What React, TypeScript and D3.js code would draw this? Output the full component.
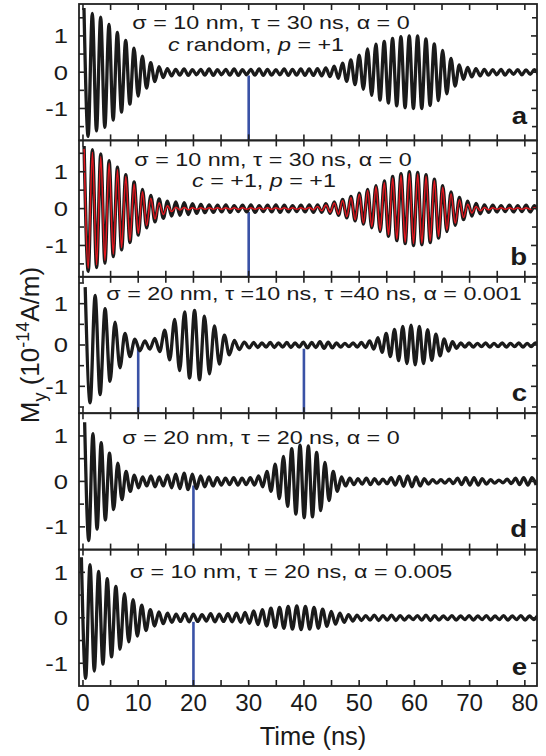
import React, { useEffect, useRef } from "react";
import * as d3 from "d3";

// ---- data ----
const timeTicks = [0, 10, 20, 30, 40, 50, 60, 70, 80];
const panelLetters = ["a", "b", "c", "d", "e"];
const yLimits = [1.88, 1.85, 1.65, 1.5, 1.5];

// blue markers (ns)
const pulseA = [30];
const pulseB = [30];
const pulseC = [10, 40];
const pulseD = [20];
const pulseE = [20];

// amplitude of each oscillation cycle (max, then min of same size)
const periodA = 1.51, startA = 0.18;
const ampA = [1.77, 1.62, 1.52, 1.32, 1.1, 0.88, 0.66, 0.44, 0.26, 0.15,
  0.1, 0.08, 0.09, 0.07, 0.08, 0.09, 0.07, 0.08, 0.09, 0.07,
  0.08, 0.09, 0.08, 0.07, 0.09, 0.08, 0.09, 0.09, 0.1, 0.12,
  0.17, 0.25, 0.34, 0.47, 0.64, 0.77, 0.85, 0.93, 0.98, 1.0,
  1.0, 0.92, 0.78, 0.6, 0.38, 0.2, 0.13, 0.1, 0.08, 0.07,
  0.08, 0.06, 0.07, 0.06, 0.07];

const periodB = 1.51, startB = 0.2;
const ampB = [1.7, 1.6, 1.48, 1.3, 1.12, 0.92, 0.72, 0.52, 0.36, 0.26,
  0.2, 0.18, 0.16, 0.13, 0.11, 0.1, 0.09, 0.1, 0.08, 0.09,
  0.1, 0.08, 0.09, 0.1, 0.09, 0.08, 0.09, 0.1, 0.1, 0.13,
  0.18, 0.25, 0.33, 0.42, 0.52, 0.62, 0.75, 0.87, 0.95, 1.0,
  0.98, 0.92, 0.8, 0.62, 0.45, 0.3, 0.2, 0.14, 0.1, 0.09,
  0.08, 0.09, 0.08, 0.09, 0.08];
const ampBRed = [1.62, 1.53, 1.41, 1.24, 1.06, 0.87, 0.67, 0.46, 0.28, 0.16,
  0.08, 0.04, 0.03, 0.02, 0.02, 0.02, 0.02, 0.02, 0.02, 0.02,
  0.02, 0.02, 0.02, 0.02, 0.02, 0.02, 0.02, 0.03, 0.06, 0.1,
  0.15, 0.22, 0.3, 0.39, 0.49, 0.59, 0.71, 0.83, 0.91, 0.95,
  0.94, 0.88, 0.76, 0.58, 0.4, 0.24, 0.12, 0.06, 0.03, 0.02,
  0.02, 0.02, 0.02, 0.02, 0.02];

const periodC1 = 1.8, startC1 = 0.4;
const ampC1 = [1.4, 1.2, 0.88, 0.55, 0.28, 0.14, 0.1, 0.16, 0.36, 0.62,
  0.8, 0.84, 0.7, 0.46, 0.24, 0.11, 0.07];
const periodC2 = 1.5, startC2 = 30.9;
const ampC2 = [0.06, 0.05, 0.06, 0.05, 0.06, 0.05, 0.07, 0.06, 0.08, 0.07,
  0.05, 0.04, 0.05, 0.06, 0.1, 0.18, 0.28, 0.38, 0.45, 0.48,
  0.45, 0.37, 0.26, 0.15, 0.08, 0.05, 0.05, 0.04, 0.05, 0.04,
  0.05, 0.04, 0.05, 0.04, 0.05];

const periodD = 1.5, startD = 0.3;
const ampD = [1.3, 1.05, 0.85, 0.62, 0.4, 0.22, 0.14, 0.1, 0.12, 0.1,
  0.14, 0.16, 0.18, 0.16, 0.12, 0.1, 0.08, 0.07, 0.08, 0.07,
  0.08, 0.12, 0.22, 0.38, 0.55, 0.72, 0.8, 0.78, 0.64, 0.42,
  0.22, 0.1, 0.07, 0.06, 0.07, 0.06, 0.05, 0.08, 0.11, 0.12,
  0.1, 0.06, 0.04, 0.04, 0.05, 0.07, 0.08, 0.08, 0.06, 0.04,
  0.03, 0.05, 0.07, 0.08, 0.08];

const periodE = 1.56, startE = -0.29;
const ampE = [1.33, 1.17, 1.02, 0.86, 0.69, 0.53, 0.4, 0.28, 0.18, 0.13,
  0.1, 0.08, 0.09, 0.08, 0.07, 0.09, 0.08, 0.09, 0.1, 0.12,
  0.15, 0.18, 0.21, 0.23, 0.25, 0.26, 0.25, 0.23, 0.19, 0.14,
  0.1, 0.07, 0.06, 0.05, 0.06, 0.05, 0.06, 0.05, 0.04, 0.05,
  0.06, 0.05, 0.04, 0.05, 0.04, 0.05, 0.04, 0.05, 0.04, 0.05,
  0.04, 0.05, 0.04, 0.04];

// panel captions: [text, italic?]
const captionA1 = [["σ = 10 nm, τ = 30 ns, α = 0", false]];
const captionA2 = [["c", true], [" random, ", false], ["p", true], [" = +1", false]];
const captionB1 = [["σ = 10 nm, τ = 30 ns, α = 0", false]];
const captionB2 = [["c", true], [" = +1, ", false], ["p", true], [" = +1", false]];
const captionC = [["σ = 20 nm, τ =10 ns, τ =40 ns, α = 0.001", false]];
const captionD = [["σ = 20 nm, τ = 20 ns, α = 0", false]];
const captionE = [["σ = 10 nm, τ = 20 ns, α = 0.005", false]];

const FONT = "'Liberation Sans', Arial, Helvetica, sans-serif";

function wavePoints(segs: { start: number; period: number; amps: number[] }[]) {
  const pts: [number, number][] = [];
  segs.forEach((s) => {
    s.amps.forEach((a, k) => {
      const t = s.start + k * s.period;
      pts.push([t, a]);
      pts.push([t + s.period / 2, -a]);
    });
  });
  return pts;
}

const panels = [
  {
    traces: [{ pts: wavePoints([{ start: startA, period: periodA, amps: ampA }]), color: "#1b1b1b", w: 3.3 }],
    pulses: pulseA,
    captions: [{ parts: captionA1, cx: 271, dy: 25 }, { parts: captionA2, cx: 256, dy: 47 }],
    letterDy: 16,
  },
  {
    traces: [
      { pts: wavePoints([{ start: startB, period: periodB, amps: ampB }]), color: "#1b1b1b", w: 3.4 },
      { pts: wavePoints([{ start: startB, period: periodB, amps: ampBRed }]), color: "#e3161e", w: 1.5 },
    ],
    pulses: pulseB,
    captions: [{ parts: captionB1, cx: 273, dy: 26 }, { parts: captionB2, cx: 264, dy: 46.5 }],
    letterDy: 12,
  },
  {
    traces: [{
      pts: wavePoints([
        { start: startC1, period: periodC1, amps: ampC1 },
        { start: startC2, period: periodC2, amps: ampC2 },
      ]), color: "#1b1b1b", w: 3.3,
    }],
    pulses: pulseC,
    captions: [{ parts: captionC, cx: 314, dy: 23 }],
    letterDy: 12,
  },
  {
    traces: [{ pts: wavePoints([{ start: startD, period: periodD, amps: ampD }]), color: "#1b1b1b", w: 3.3 }],
    pulses: pulseD,
    captions: [{ parts: captionD, cx: 261, dy: 31 }],
    letterDy: 13,
  },
  {
    traces: [{ pts: wavePoints([{ start: startE, period: periodE, amps: ampE }]), color: "#1b1b1b", w: 3.3 }],
    pulses: pulseE,
    captions: [{ parts: captionE, cx: 291, dy: 28.5 }],
    letterDy: 11,
  },
];

export default function App() {
  const ref = useRef<SVGSVGElement>(null);

  useEffect(() => {
    const W = 546, H = 756;
    const left = 79, right = 537, top = 4, bottom = 686;
    const ph = (bottom - top) / panels.length;

    const svg = d3.select(ref.current);
    svg.selectAll("*").remove();
    svg.attr("width", W).attr("height", H);

    const x = d3.scaleLinear().domain([-0.72, 82.2]).range([left, right]);
    const minorX = d3.range(0, 82, 5);

    panels.forEach((p, i) => {
      const y0 = top + i * ph;
      const L = yLimits[i];
      const y = d3.scaleLinear().domain([-L, L]).range([y0 + ph, y0]);
      const g = svg.append("g");

      const clipId = "clip" + i;
      svg.append("clipPath").attr("id", clipId)
        .append("rect").attr("x", left).attr("y", y0).attr("width", right - left).attr("height", ph);

      // blue markers
      g.selectAll(".pulse").data(p.pulses).join("line")
        .attr("x1", (d) => x(d)).attr("x2", (d) => x(d))
        .attr("y1", y(-0.09)).attr("y2", y0 + ph)
        .attr("stroke", "#3a52a6").attr("stroke-width", 2.6);

      // traces
      const line = d3.line<[number, number]>()
        .x((d) => x(d[0])).y((d) => y(d[1]))
        .curve(d3.curveMonotoneX);
      p.traces.forEach((tr) => {
        g.append("path")
          .attr("d", line(tr.pts))
          .attr("fill", "none")
          .attr("stroke", tr.color)
          .attr("stroke-width", tr.w)
          .attr("stroke-linejoin", "round")
          .attr("clip-path", `url(#${clipId})`);
      });

      // frame
      g.append("rect")
        .attr("x", left).attr("y", y0).attr("width", right - left).attr("height", ph)
        .attr("fill", "none").attr("stroke", "#222").attr("stroke-width", 1.8);

      // x ticks, bottom and top, inward
      minorX.forEach((t) => {
        g.append("line").attr("x1", x(t)).attr("x2", x(t))
          .attr("y1", y0 + ph).attr("y2", y0 + ph - 6)
          .attr("stroke", "#222").attr("stroke-width", 1.6);
        g.append("line").attr("x1", x(t)).attr("x2", x(t))
          .attr("y1", y0).attr("y2", y0 + 6)
          .attr("stroke", "#222").attr("stroke-width", 1.6);
      });

      // y ticks left & right
      const yt = d3.range(-1.5, 1.51, 0.5).filter((v) => Math.abs(v) < L - 0.05);
      yt.forEach((v) => {
        const len = Number.isInteger(v) ? 6 : 5;
        g.append("line").attr("x1", left).attr("x2", left + len)
          .attr("y1", y(v)).attr("y2", y(v)).attr("stroke", "#222").attr("stroke-width", 1.6);
        g.append("line").attr("x1", right).attr("x2", right - len)
          .attr("y1", y(v)).attr("y2", y(v)).attr("stroke", "#222").attr("stroke-width", 1.6);
      });
      [1, 0, -1].forEach((v) => {
        g.append("text")
          .attr("transform", `translate(68,${y(v) + 7.3}) scale(1.25,1)`)
          .attr("text-anchor", "end")
          .attr("font-family", FONT).attr("font-size", 20.5).attr("fill", "#1a1a1a")
          .text(String(v));
      });

      // captions
      p.captions.forEach((c) => {
        const txt = g.append("text")
          .attr("transform", `translate(${c.cx},${y0 + c.dy}) scale(1.26,1)`)
          .attr("text-anchor", "middle")
          .attr("font-family", FONT).attr("font-size", 18.5).attr("fill", "#1a1a1a");
        c.parts.forEach(([s, it]) => {
          txt.append("tspan").attr("font-style", it ? "italic" : "normal").text(s as string);
        });
      });

      // panel letter
      g.append("text")
        .attr("transform", `translate(527,${y0 + ph - p.letterDy}) scale(1.15,1)`)
        .attr("text-anchor", "end")
        .attr("font-family", FONT).attr("font-weight", "bold").attr("font-size", 24)
        .attr("fill", "#1a1a1a")
        .text(panelLetters[i]);
    });

    // x tick labels
    svg.selectAll(".xl").data(timeTicks).join("text")
      .attr("transform", (d) => `translate(${x(d)},711) scale(1.05,1)`)
      .attr("text-anchor", "middle")
      .attr("font-family", FONT).attr("font-size", 23).attr("fill", "#1a1a1a")
      .text((d) => String(d));

    svg.append("text")
      .attr("x", 313).attr("y", 745)
      .attr("text-anchor", "middle")
      .attr("font-family", FONT).attr("font-size", 25.5).attr("fill", "#1a1a1a")
      .text("Time (ns)");

    const yl = svg.append("text")
      .attr("transform", "translate(39,345) rotate(-90)")
      .attr("text-anchor", "middle")
      .attr("font-family", FONT).attr("font-size", 26).attr("fill", "#1a1a1a");
    yl.append("tspan").text("M");
    yl.append("tspan").attr("font-size", 18).attr("dy", 7).text("y");
    yl.append("tspan").attr("dy", -7).text(" (10");
    yl.append("tspan").attr("font-size", 18).attr("dy", -10).text("-14");
    yl.append("tspan").attr("dy", 10).text("A/m)");
  }, []);

  return (
    <svg ref={ref} style={{ position: "absolute", left: 0, top: 0, background: "#fff" }} />
  );
}
